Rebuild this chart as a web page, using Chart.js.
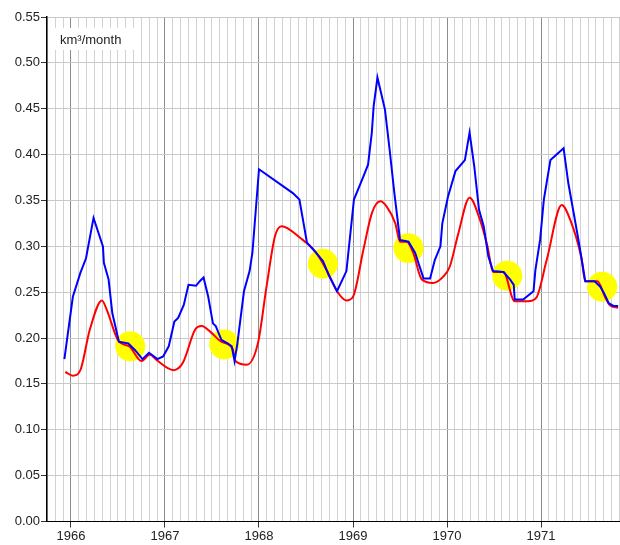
<!DOCTYPE html>
<html lang="en">
<head>
  <meta charset="UTF-8">
  <title>Runoff, km3/month</title>
  <script src="https://cdn.jsdelivr.net/npm/chart.js"></script>
  <style>
    html, body {
      margin: 0;
      padding: 0;
      background: #fff;
      overflow: hidden;
    }
    canvas {
      display: block;
    }
  </style>
</head>
<body>

  <canvas id="flowChart" width="620" height="545"></canvas>

  <script>
    // years shown on the time axis
    const years = [1966, 1967, 1968, 1969, 1970, 1971];

    // observed flow (blue), time in decimal years
    const obsTime = [1965.93, 1966.02, 1966.10, 1966.16, 1966.24, 1966.34, 1966.35, 1966.40, 1966.44, 1966.51,
      1966.61, 1966.68, 1966.76, 1966.83, 1966.92, 1966.98, 1967.04, 1967.10, 1967.14, 1967.20,
      1967.25, 1967.33, 1967.37, 1967.41, 1967.46, 1967.51, 1967.54, 1967.60, 1967.67, 1967.71,
      1967.74, 1967.77, 1967.84, 1967.90, 1967.93, 1968.00, 1968.36, 1968.43, 1968.51, 1968.60,
      1968.68, 1968.74, 1968.83, 1968.93, 1969.01, 1969.11, 1969.16, 1969.20, 1969.22, 1969.26,
      1969.29, 1969.34, 1969.39, 1969.44, 1969.50, 1969.59, 1969.66, 1969.75, 1969.82, 1969.87,
      1969.93, 1969.95, 1970.01, 1970.09, 1970.19, 1970.24, 1970.29, 1970.34, 1970.39, 1970.44,
      1970.49, 1970.60, 1970.67, 1970.71, 1970.72, 1970.81, 1970.92, 1970.94, 1970.99, 1971.03,
      1971.10, 1971.24, 1971.29, 1971.36, 1971.41, 1971.47, 1971.57, 1971.63, 1971.67, 1971.72,
      1971.77, 1971.82];
    const obsFlow = [0.177, 0.245, 0.271, 0.287, 0.331, 0.300, 0.282, 0.264, 0.227, 0.196,
      0.194, 0.187, 0.177, 0.184, 0.177, 0.180, 0.191, 0.218, 0.222, 0.236,
      0.258, 0.257, 0.262, 0.266, 0.245, 0.216, 0.213, 0.198, 0.194, 0.191,
      0.175, 0.194, 0.251, 0.273, 0.293, 0.384, 0.358, 0.351, 0.304, 0.294,
      0.284, 0.269, 0.251, 0.273, 0.351, 0.376, 0.389, 0.424, 0.453, 0.484,
      0.471, 0.449, 0.405, 0.358, 0.307, 0.305, 0.293, 0.265, 0.265, 0.285,
      0.300, 0.325, 0.354, 0.382, 0.394, 0.424, 0.387, 0.340, 0.322, 0.289,
      0.273, 0.272, 0.264, 0.258, 0.242, 0.242, 0.251, 0.274, 0.307, 0.351,
      0.394, 0.407, 0.369, 0.329, 0.300, 0.262, 0.262, 0.256, 0.249, 0.238,
      0.235, 0.235];

    // simulated flow (red)
    const simTime = [1965.94, 1966.02, 1966.10, 1966.20, 1966.33, 1966.38, 1966.51, 1966.62, 1966.75, 1966.84,
      1966.91, 1967.09, 1967.19, 1967.32, 1967.39, 1967.48, 1967.60, 1967.72, 1967.75, 1967.87,
      1967.99, 1968.08, 1968.17, 1968.24, 1968.44, 1968.60, 1968.72, 1968.83, 1968.93, 1969.00,
      1969.11, 1969.20, 1969.29, 1969.36, 1969.45, 1969.50, 1969.57, 1969.64, 1969.73, 1969.85,
      1969.96, 1970.03, 1970.12, 1970.24, 1970.35, 1970.43, 1970.49, 1970.60, 1970.72, 1970.86,
      1970.95, 1971.06, 1971.22, 1971.31, 1971.43, 1971.47, 1971.60, 1971.68, 1971.73, 1971.82];
    const simFlow = [0.163, 0.159, 0.165, 0.209, 0.241, 0.231, 0.196, 0.191, 0.175, 0.182,
      0.176, 0.165, 0.173, 0.209, 0.213, 0.207, 0.196, 0.188, 0.175, 0.171,
      0.195, 0.256, 0.311, 0.322, 0.309, 0.294, 0.274, 0.251, 0.241, 0.245,
      0.296, 0.336, 0.349, 0.343, 0.325, 0.305, 0.305, 0.293, 0.264, 0.260,
      0.267, 0.278, 0.314, 0.353, 0.329, 0.300, 0.272, 0.272, 0.240, 0.240,
      0.244, 0.285, 0.345, 0.329, 0.287, 0.262, 0.262, 0.245, 0.236, 0.233];

    // highlighted recession points
    const markTime = [1966.63, 1967.63, 1968.68, 1969.59, 1970.64, 1971.65];
    const markFlow = [0.191, 0.193, 0.281, 0.298, 0.268, 0.256];

    const toPoints = (xs, ys) => xs.map((x, i) => ({ x: x, y: ys[i] }));
    const isYear = v => Math.abs(v - Math.round(v)) < 1e-6;

    // unit label in the top-left corner, on a white patch over the grid
    const unitLabel = {
      id: 'unitLabel',
      beforeDatasetsDraw(chart) {
        const ctx = chart.ctx;
        ctx.save();
        ctx.fillStyle = '#fff';
        ctx.fillRect(53, 28, 82, 22);
        ctx.fillStyle = '#222';
        ctx.font = '13px "Liberation Sans", Arial, sans-serif';
        ctx.textBaseline = 'alphabetic';
        ctx.fillText('km³/month', 60, 44);
        ctx.restore();
      }
    };

    const ctxFlow = document.getElementById('flowChart').getContext('2d');
    const flowChart = new Chart(ctxFlow, {
      type: 'line',
      data: {
        datasets: [{
          label: 'observed',
          data: toPoints(obsTime, obsFlow),
          borderColor: '#0000ff',
          borderWidth: 2,
          pointRadius: 0,
          tension: 0
        }, {
          label: 'simulated',
          data: toPoints(simTime, simFlow),
          borderColor: '#ff0000',
          borderWidth: 2,
          pointRadius: 0,
          cubicInterpolationMode: 'monotone'
        }, {
          label: 'marks',
          data: toPoints(markTime, markFlow),
          showLine: false,
          pointRadius: 15,
          pointBackgroundColor: '#ffff00',
          pointBorderWidth: 0
        }]
      },
      options: {
        responsive: false,
        animation: false,
        layout: {
          autoPadding: false,
          padding: { top: 17, right: 0, left: 0, bottom: 0 }
        },
        plugins: {
          legend: { display: false },
          tooltip: { enabled: false }
        },
        scales: {
          x: {
            type: 'linear',
            min: 1965.745,
            max: 1971.84,
            afterBuildTicks: function(scale) {
              const ticks = [];
              for (let m = Math.ceil(scale.min * 12); m <= scale.max * 12; m++) {
                ticks.push({ value: m / 12 });
              }
              scale.ticks = ticks;
            },
            afterFit: function(scale) {
              scale.height = 23.5;
              scale.paddingLeft = 0;
              scale.paddingRight = 0;
            },
            border: { color: '#000', width: 1 },
            grid: {
              lineWidth: 1,
              tickLength: 6,
              color: c => (c.tick && isYear(c.tick.value)) ? '#8c8c8c' : '#d2d2d2',
              tickColor: c => (c.tick && isYear(c.tick.value)) ? '#333' : 'rgba(0,0,0,0)'
            },
            ticks: {
              autoSkip: false,
              maxRotation: 0,
              padding: 1,
              color: '#222',
              font: { family: '"Liberation Sans", Arial, sans-serif', size: 13 },
              callback: function(v) {
                const y = Math.round(v);
                return (isYear(v) && years.includes(y)) ? String(y) : '';
              }
            }
          },
          y: {
            min: 0,
            max: 0.55,
            afterFit: function(scale) { scale.width = 47; },
            border: { color: '#000', width: 1.5 },
            grid: {
              color: '#c8c8c8',
              lineWidth: 1,
              tickLength: 6,
              tickColor: '#333'
            },
            ticks: {
              stepSize: 0.05,
              padding: 1,
              color: '#222',
              font: { family: '"Liberation Sans", Arial, sans-serif', size: 13 },
              callback: v => v.toFixed(2)
            }
          }
        }
      },
      plugins: [unitLabel]
    });
  </script>

</body>
</html>
